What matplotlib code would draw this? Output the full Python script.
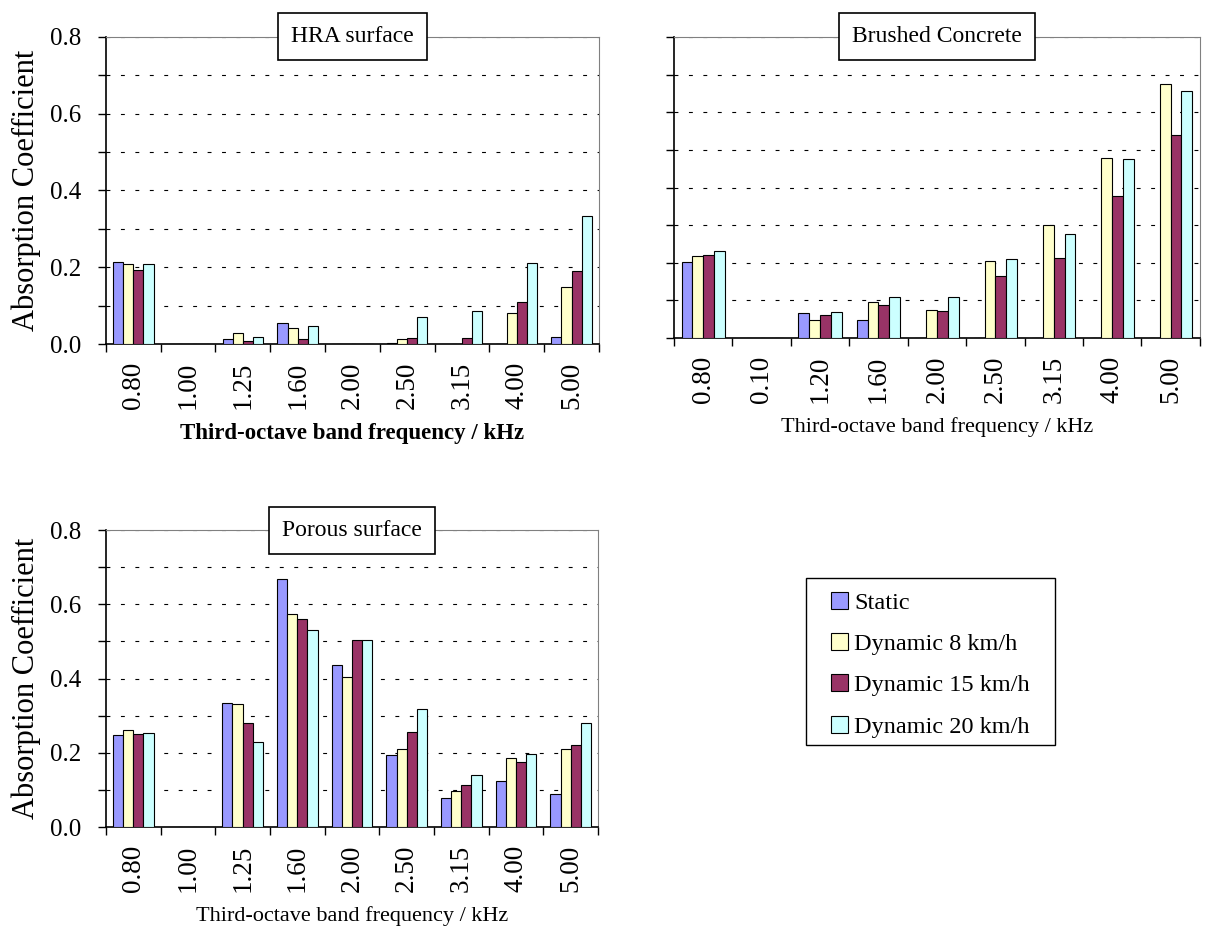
import numpy as np
import matplotlib
matplotlib.use("Agg")
import matplotlib.pyplot as plt
from matplotlib.patches import Rectangle
from matplotlib.ticker import FuncFormatter

plt.rcParams["font.family"] = ["Liberation Serif", "DejaVu Serif"]

# Datos
freq_hra = ["0.80", "1.00", "1.25", "1.60", "2.00", "2.50", "3.15", "4.00", "5.00"]
freq_brushed = ["0.80", "0.10", "1.20", "1.60", "2.00", "2.50", "3.15", "4.00", "5.00"]
freq_porous = ["0.80", "1.00", "1.25", "1.60", "2.00", "2.50", "3.15", "4.00", "5.00"]

series = ["Static", "Dynamic 8 km/h", "Dynamic 15 km/h", "Dynamic 20 km/h"]
colores = ["#9999FF", "#FFFFCC", "#993366", "#CCFFFF"]

hra_static = [0.214, 0, 0.012, 0.056, 0, 0.003, 0, 0, 0.017]
hra_8 = [0.208, 0, 0.028, 0.042, 0, 0.014, 0, 0.082, 0.148]
hra_15 = [0.193, 0, 0.009, 0.014, 0, 0.016, 0.016, 0.109, 0.190]
hra_20 = [0.208, 0, 0.017, 0.046, 0, 0.071, 0.087, 0.212, 0.334]

brushed_static = [0.201, 0, 0.066, 0.048, 0, 0, 0, 0, 0]
brushed_8 = [0.219, 0, 0.049, 0.095, 0.075, 0.204, 0.300, 0.478, 0.675]
brushed_15 = [0.220, 0, 0.061, 0.087, 0.073, 0.165, 0.212, 0.377, 0.540]
brushed_20 = [0.232, 0, 0.069, 0.108, 0.108, 0.209, 0.277, 0.475, 0.657]

porous_static = [0.247, 0, 0.333, 0.669, 0.436, 0.194, 0.079, 0.125, 0.090]
porous_8 = [0.260, 0, 0.330, 0.575, 0.405, 0.211, 0.096, 0.185, 0.209]
porous_15 = [0.250, 0, 0.279, 0.561, 0.505, 0.256, 0.112, 0.174, 0.220]
porous_20 = [0.253, 0, 0.229, 0.531, 0.504, 0.317, 0.141, 0.197, 0.281]


def panel(ax, etiquetas, datos, titulo, ylabel=True, yticklabels=True, bold_x=False):
    x = np.arange(len(etiquetas))
    ancho = 0.185
    for i, (vals, col, nombre) in enumerate(zip(datos, colores, series)):
        ax.bar(x + (i - 1.5) * ancho, vals, ancho, color=col, edgecolor="black",
               linewidth=0.8, label=nombre, zorder=3)

    ax.set_xlim(-0.5, len(etiquetas) - 0.5)
    ax.set_ylim(0, 0.8)

    # ticks x: etiquetas en el centro, marcas en los bordes
    ax.set_xticks(x)
    ax.set_xticklabels(etiquetas, rotation=90, fontsize=19.5)
    ax.set_xticks(np.arange(-0.5, len(etiquetas)), minor=True)
    ax.tick_params(axis="x", which="major", length=0, pad=13)
    ax.tick_params(axis="x", which="minor", length=6, width=1, direction="out")

    ax.set_yticks(np.arange(0, 0.81, 0.1))
    if yticklabels:
        ax.yaxis.set_major_formatter(FuncFormatter(
            lambda v, p: f"{v:.1f}" if round(v * 10) % 2 == 0 else ""))
    else:
        ax.set_yticklabels([])
    ax.tick_params(axis="y", length=6, width=1, direction="out", labelsize=18, pad=12)

    ax.grid(axis="y", color="black", linestyle=(0, (3.5, 9.5)), linewidth=0.8, zorder=0)
    ax.set_axisbelow(True)

    for s in ["top", "right"]:
        ax.spines[s].set_color("#808080")
    for s in ["left", "bottom"]:
        ax.spines[s].set_color("black")
        ax.spines[s].set_linewidth(1.2)

    ax.set_xlabel("Third-octave band frequency / kHz",
                  fontsize=16.5 if bold_x else 16,
                  fontweight="bold" if bold_x else "normal", labelpad=10)
    if ylabel:
        ax.set_ylabel("Absorption Coefficient", fontsize=22, labelpad=6)

    ax.text(0.5, 1.0, titulo, transform=ax.transAxes, ha="center", va="center",
            fontsize=17, zorder=10,
            bbox=dict(boxstyle="square,pad=0.55", facecolor="white",
                      edgecolor="black", linewidth=1.2))


fig = plt.figure(figsize=(12.08, 9.31), dpi=100)

ax1 = fig.add_axes([0.0877, 0.6305, 0.4081, 0.3298])
ax2 = fig.add_axes([0.5579, 0.6369, 0.4354, 0.3234])
ax3 = fig.add_axes([0.0877, 0.1117, 0.4073, 0.3190])

panel(ax1, freq_hra, [hra_static, hra_8, hra_15, hra_20], "HRA surface", bold_x=True)
panel(ax2, freq_brushed, [brushed_static, brushed_8, brushed_15, brushed_20],
      "Brushed Concrete", ylabel=False, yticklabels=False)
panel(ax3, freq_porous, [porous_static, porous_8, porous_15, porous_20], "Porous surface")

# leyenda sin marco + marco aparte
handles, labels = ax3.get_legend_handles_labels()
fig.legend(handles, labels, loc="upper left", bbox_to_anchor=(0.688, 0.3646),
           fontsize=17.5, frameon=False, borderpad=0,
           labelspacing=0.8, handlelength=0.7, handleheight=0.7,
           handletextpad=0.25, borderaxespad=0)
fig.patches.append(Rectangle((806 / 1208, 1 - 745 / 931), 249 / 1208, 167 / 931,
                             transform=fig.transFigure, fill=False,
                             edgecolor="black", linewidth=1.0))

fig.savefig("out.png", dpi=100)
